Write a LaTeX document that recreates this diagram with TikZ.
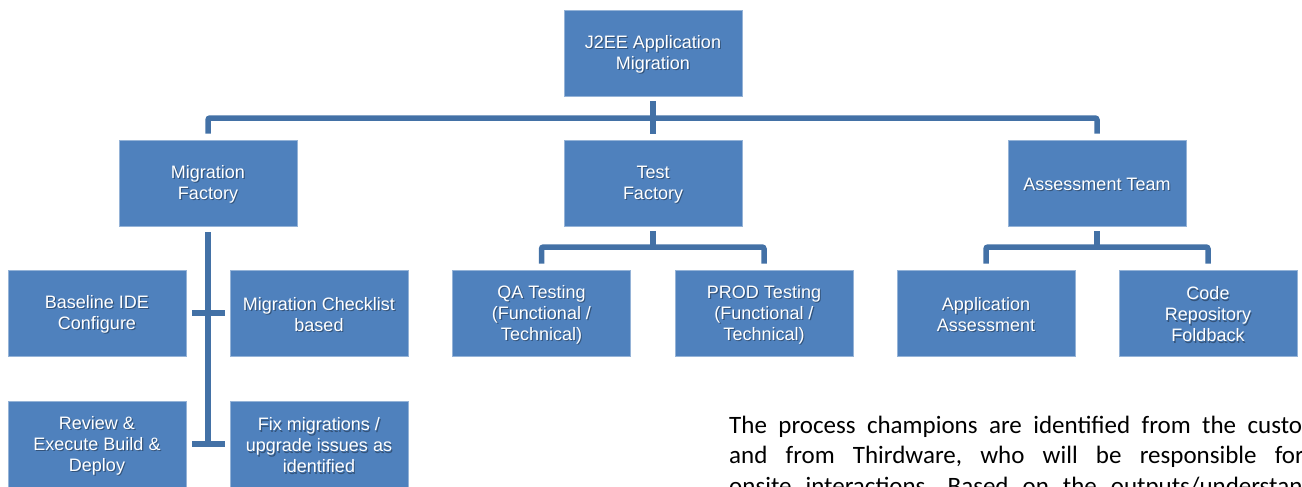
\documentclass[tikz,border=0pt]{standalone}
\usepackage{fontspec}
\newfontfamily\arialf{Liberation Sans}
\newfontfamily\calf{Carlito}
\definecolor{boxblue}{HTML}{4F81BD}
\definecolor{connblue}{HTML}{4371A6}
\tikzset{
  boxst/.style={rectangle, fill=boxblue, draw=boxblue!60!white, line width=0.6pt,
    minimum width=178pt, minimum height=86pt, inner sep=0pt},
  wtext/.style={text=white, align=center, inner sep=0pt,
    font=\arialf\fontsize{18}{21}\selectfont},
  shtext/.style={text=black, text opacity=0.35, align=center, inner sep=0pt,
    font=\arialf\fontsize{18}{21}\selectfont},
  conn/.style={draw=connblue, line width=5.5pt, rounded corners=2pt},
  para/.style={anchor=base west, inner sep=0pt, text=black,
    font=\calf\fontsize{25}{31}\selectfont}
}
\newcommand\orgbox[4]{%
  \node[boxst] (#1) at (#2,#3) {};
  \node[shtext] at ([xshift=1.2pt,yshift=-2.7pt]#1.center) {#4};
  \node[wtext] at ([yshift=-1.5pt]#1.center) {#4};
}
\begin{document}
\begin{tikzpicture}[x=1pt,y=-1pt]
\useasboundingbox (0,0) rectangle (1302,487);
\begin{scope}
\clip (0,0) rectangle (1302,487);
% boxes
\orgbox{top}{653}{53}{J2EE Application\\Migration}
\orgbox{mf}{208}{183}{Migration\\Factory}
\orgbox{tf}{653}{183}{Test\\Factory}
\orgbox{at}{1097}{183}{Assessment Team}
\orgbox{base}{97}{313}{Baseline IDE\\Configure}
\orgbox{chk}{319}{313}{Migration Checklist\\based}
\orgbox{qa}{541.5}{313}{QA Testing\\(Functional /\\Technical)}
\orgbox{prod}{764}{313}{PROD Testing\\(Functional /\\Technical)}
\orgbox{app}{986}{313}{Application\\Assessment}
\orgbox{code}{1208}{313}{Code\\Repository\\Foldback}
\orgbox{rev}{97}{444}{Review \&\\Execute Build \&\\Deploy}
\orgbox{fix}{319}{444}{Fix migrations /\\upgrade issues as\\identified}
% bar coordinates
\coordinate (bar1) at (653,118);
\coordinate (bar2) at (653,247);
\coordinate (bar3) at (1097,247);
% connectors level 1
\draw[conn] ([yshift=-5pt]top.south) -- ([yshift=6pt]tf.north);
\draw[conn] ([yshift=6pt]mf.north) -- (mf.north |- bar1) -- (at.north |- bar1) -- ([yshift=6pt]at.north);
% test factory
\draw[conn] ([yshift=-5pt]tf.south) -- (bar2);
\draw[conn] ([yshift=6pt]qa.north) -- (qa.north |- bar2) -- (prod.north |- bar2) -- ([yshift=6pt]prod.north);
% assessment
\draw[conn] ([yshift=-5pt]at.south) -- (bar3);
\draw[conn] ([yshift=6pt]app.north) -- (app.north |- bar3) -- (code.north |- bar3) -- ([yshift=6pt]code.north);
% migration factory
\draw[conn, rounded corners=0pt] ([yshift=-6pt]mf.south) -- ([yshift=-2.7pt]mf.south |- rev.east);
\draw[conn, rounded corners=0pt] ([xshift=6pt]base.east) -- ([xshift=-5pt]chk.west);
\draw[conn, rounded corners=0pt] ([xshift=6pt]rev.east) -- ([xshift=-5pt]fix.west);
% paragraph
\node[para] (p1) at (729,433) {\hbox to 573pt{The\hfill process\hfill champions\hfill are\hfill identified\hfill from\hfill the\hfill custo\rlap{mer}}};
\node[para] (p2) at (729,463.5) {\hbox to 566pt{and\hfill from\hfill Thirdware,\hfill who\hfill will\hfill be\hfill responsible\hfill fo\rlap{r}}};
\node[para] (p3) at (729,494) {\spaceskip=14pt onsite interactions. Based on the outputs/understanding};
\end{scope}
\end{tikzpicture}
\end{document}
